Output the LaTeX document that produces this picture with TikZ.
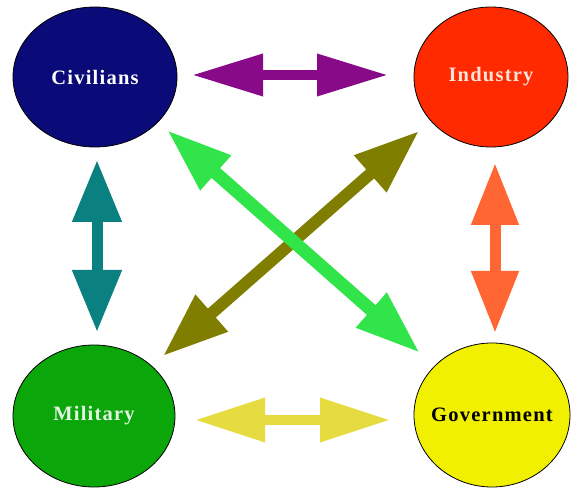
\documentclass[tikz,border=0pt]{standalone}
\usepackage{fontspec}
\setmainfont{Liberation Serif}
\newfontfamily\lblfont[LetterSpace=6]{Liberation Serif}
\usetikzlibrary{arrows.meta,shapes.geometric}
\definecolor{civC}{HTML}{0A0A78}
\definecolor{indC}{HTML}{FF2A00}
\definecolor{milC}{HTML}{0AA60A}
\definecolor{govC}{HTML}{F0F000}
\definecolor{purpC}{HTML}{880A88}
\definecolor{tealC}{HTML}{0A8080}
\definecolor{orangeC}{HTML}{FF6633}
\definecolor{yelC}{HTML}{E6DC40}
\definecolor{grnC}{HTML}{30E44A}
\definecolor{oliveC}{HTML}{807E00}
\tikzset{
  blob/.style={ellipse, draw=black, line width=0.8pt, inner sep=0pt, font=\lblfont\bfseries\fontsize{20.5}{22}\selectfont},
  dbl/.style args={#1/#2/#3/#4}{draw=#1, line width=#2, {Triangle[length=#3,width=#4]}-{Triangle[length=#3,width=#4]}},
}
\begin{document}
\begin{tikzpicture}[x=1pt,y=-1pt]
\useasboundingbox (0,0) rectangle (571,489);
\fill[white] (0,0) rectangle (571,489);
\node[blob, fill=civC, text=white, minimum width=164pt, minimum height=140pt] (civ) at (95,77) {\makebox[0pt]{Civilians}};
\node[blob, fill=indC, text={rgb,255:red,248;green,228;blue,220}, minimum width=154pt, minimum height=140pt] (ind) at (491,77) {\makebox[0pt]{Industry}};
\node[blob, fill=milC, text={rgb,255:red,228;green,245;blue,228}, minimum width=162pt, minimum height=142pt] (mil) at (94,416) {\makebox[0pt]{Military}};
\node[blob, fill=govC, text=black, minimum width=156pt, minimum height=144pt] (gov) at (492,415) {\makebox[0pt]{Government}};
% arrow end points
\coordinate (pA) at (192,75);  \coordinate (pB) at (388,75);
\coordinate (tA) at (97,160);  \coordinate (tB) at (97,332);
\coordinate (oA) at (495,163); \coordinate (oB) at (495,333);
\coordinate (yA) at (195,420); \coordinate (yB) at (390,420);
\coordinate (gA) at (167,130); \coordinate (gB) at (420,353);
\coordinate (lA) at (419,131); \coordinate (lB) at (163,356);
\draw[dbl=purpC/10pt/71pt/40pt] (pA) -- (pB);
\draw[dbl=tealC/11pt/62pt/47pt] (tA) -- (tB);
\draw[dbl=orangeC/11pt/62pt/45pt] (oA) -- (oB);
\draw[dbl=yelC/10pt/70pt/42pt] (yA) -- (yB);
\draw[dbl=oliveC/12pt/65pt/46pt] (lA) -- (lB);
\draw[dbl=grnC/13pt/65pt/43pt] (gA) -- (gB);
\end{tikzpicture}
\end{document}
